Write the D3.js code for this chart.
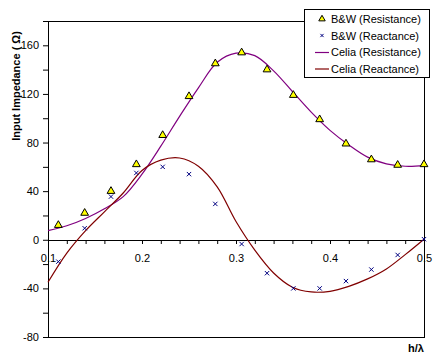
<html>
<head>
<title>Input Impedance</title>
<script src="https://d3js.org/d3.v7.min.js"></script>
<style>
body { margin: 0; background: #fff; }
text { font-family: Arial, "Liberation Sans", sans-serif; }
</style>
</head>
<body>
<script>

// B&W measured points (h/lambda, ohms)
var bwH = [0.111, 0.139, 0.167, 0.194, 0.222, 0.25, 0.278, 0.306, 0.333, 0.361, 0.389, 0.417, 0.444, 0.472, 0.5];
var bwRes = [12, 22, 40, 62, 86, 118, 145, 154, 140, 119, 99, 79, 66, 61.5, 62];
var bwReact = [-18, 9.5, 35.5, 55, 60, 54, 29.5, -3.5, -27.5, -40, -40, -34, -24.5, -12.5, 0.5];

// Celia curves
var celiaH = [0.10, 0.12, 0.14, 0.16, 0.18, 0.20, 0.22, 0.24, 0.26, 0.28, 0.30, 0.32, 0.34, 0.36, 0.38, 0.40, 0.42, 0.44, 0.46, 0.48, 0.50];
var celiaRes = [7.5, 11.5, 17.5, 25.5, 35.5, 54, 77, 101.5, 125, 146, 153.5, 151.5, 139, 122, 105, 90, 78, 68, 62.5, 60.5, 61];
var celiaReact = [-35, -11, 7.5, 23, 38.5, 57, 65.5, 67.3, 60.5, 43.5, 15, -8.5, -27.3, -39, -42.9, -42.4, -38.3, -32.2, -24, -12.2, 0.5];

var xTicks = [0.1, 0.2, 0.3, 0.4, 0.5];
var yTicks = [-80, -40, 0, 40, 80, 120, 160];

var legendItems = ["B&W (Resistance)", "B&W (Reactance)", "Celia (Resistance)", "Celia (Reactance)"];

var width = 437, height = 360;
var plot = {left: 48, right: 424, top: 21, bottom: 337};

var svg = d3.select("body").append("svg")
    .attr("width", width)
    .attr("height", height);

var x = d3.scaleLinear().domain([0.1, 0.5]).range([plot.left, plot.right]);
var y = d3.scaleLinear().domain([-80, 180]).range([plot.bottom, plot.top]);

// frame
svg.append("rect")
    .attr("x", plot.left + 0.5).attr("y", plot.top + 0.5)
    .attr("width", plot.right - plot.left).attr("height", plot.bottom - plot.top)
    .attr("fill", "none").attr("stroke", "#000");

// y axis
var yAxis = d3.axisLeft(y)
    .tickValues(d3.range(-80, 181, 20))
    .tickSize(5).tickSizeOuter(0).tickPadding(4)
    .tickFormat(function(d) { return yTicks.indexOf(d) >= 0 ? d : ""; });
svg.append("g")
    .attr("transform", "translate(" + plot.left + ",0)")
    .call(yAxis)
    .call(function(g) { g.selectAll("text").attr("font-size", 11).attr("font-family", "Arial, 'Liberation Sans', sans-serif").attr("fill", "#000"); });

// x axis along zero
var xAxis = d3.axisBottom(x)
    .tickValues(d3.range(0, 21).map(function(i) { return 0.1 + i * 0.02; }))
    .tickSize(4).tickSizeOuter(0).tickPadding(10)
    .tickFormat(function(d) {
      var r = Math.round(d * 10) / 10;
      return Math.abs(d - r) < 1e-6 ? r : "";
    });
svg.append("g")
    .attr("transform", "translate(0," + Math.round(y(0)) + ")")
    .call(xAxis)
    .call(function(g) { g.selectAll("text").attr("font-size", 11).attr("font-family", "Arial, 'Liberation Sans', sans-serif").attr("fill", "#000"); });

// curves
var line = d3.line()
    .x(function(d) { return x(d[0]); })
    .y(function(d) { return y(d[1]); })
    .curve(d3.curveCatmullRom);

svg.append("path")
    .datum(celiaH.map(function(h, i) { return [h, celiaRes[i]]; }))
    .attr("d", line)
    .attr("fill", "none").attr("stroke", "#800080").attr("stroke-width", 1.2);

svg.append("path")
    .datum(celiaH.map(function(h, i) { return [h, celiaReact[i]]; }))
    .attr("d", line)
    .attr("fill", "none").attr("stroke", "#800000").attr("stroke-width", 1.2);

// markers
var tri = d3.symbol().type(d3.symbolTriangle).size(26);
var cross = d3.symbol().type(d3.symbolX).size(14);

svg.selectAll(".react")
    .data(bwH)
  .enter().append("path")
    .attr("class", "react")
    .attr("transform", function(d, i) { return "translate(" + x(d) + "," + y(bwReact[i]) + ")"; })
    .attr("d", cross)
    .attr("fill", "none").attr("stroke", "#000080").attr("stroke-width", 1);

svg.selectAll(".res")
    .data(bwH)
  .enter().append("path")
    .attr("class", "res")
    .attr("transform", function(d, i) { return "translate(" + x(d) + "," + y(bwRes[i]) + ")"; })
    .attr("d", tri)
    .attr("fill", "#ffff00").attr("stroke", "#000").attr("stroke-width", 1);

// axis titles
svg.append("text")
    .attr("transform", "translate(20,86) rotate(-90)")
    .attr("text-anchor", "middle")
    .attr("font-size", 11).attr("font-weight", "bold")
    .text("Input Impedance ( \u03A9)");

svg.append("text")
    .attr("x", plot.right).attr("y", 352)
    .attr("text-anchor", "end")
    .attr("font-size", 11).attr("font-weight", "bold")
    .text("h/\u03BB");

// legend
var lg = svg.append("g").attr("transform", "translate(304,9)");
lg.append("rect")
    .attr("x", 0.5).attr("y", 0.5).attr("width", 125).attr("height", 68)
    .attr("fill", "#fff").attr("stroke", "#000");

legendItems.forEach(function(name, i) {
  var cy = 10 + i * 16.5;
  if (i == 0) {
    lg.append("path").attr("transform", "translate(18," + cy + ")").attr("d", d3.symbol().type(d3.symbolTriangle).size(18))
      .attr("fill", "#ffff00").attr("stroke", "#000");
  } else if (i == 1) {
    lg.append("path").attr("transform", "translate(18," + cy + ")").attr("d", d3.symbol().type(d3.symbolX).size(8))
      .attr("fill", "none").attr("stroke", "#000080");
  } else {
    lg.append("line").attr("x1", 11).attr("x2", 25).attr("y1", cy + 0.5).attr("y2", cy + 0.5)
      .attr("stroke", i == 2 ? "#800080" : "#800000").attr("stroke-width", 1.2);
  }
  lg.append("text")
    .attr("x", 27).attr("y", cy + 4)
    .attr("font-size", 11)
    .text(name);
});

</script>
</body>
</html>
